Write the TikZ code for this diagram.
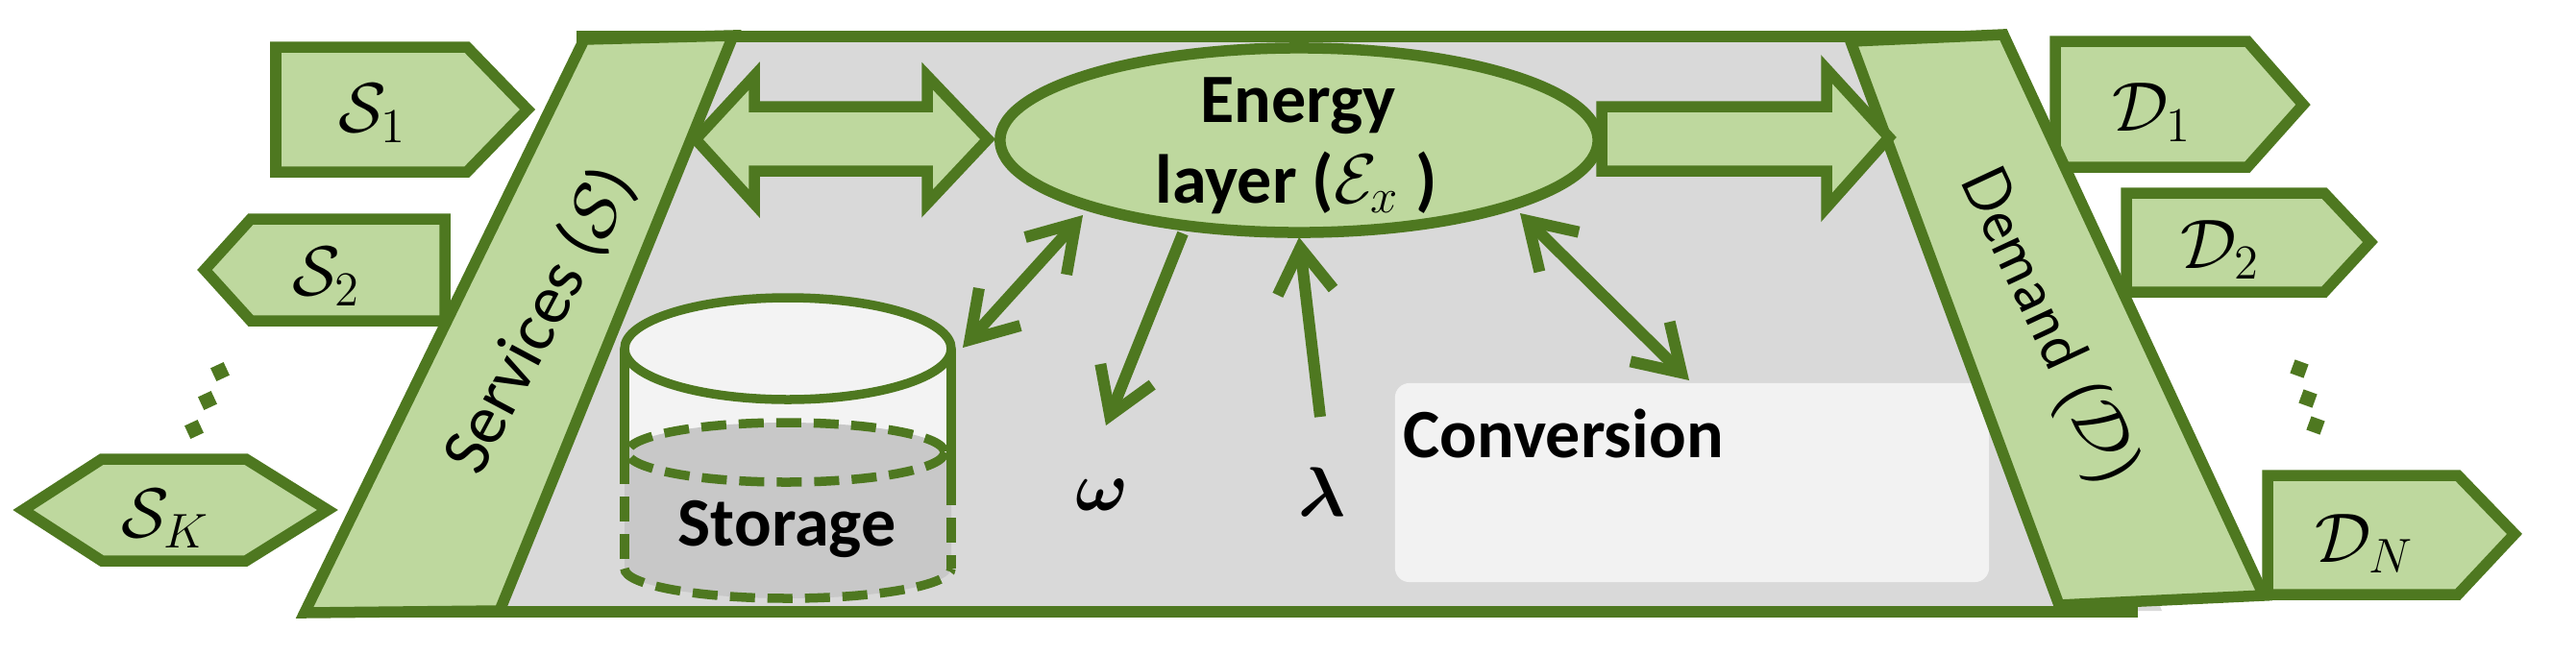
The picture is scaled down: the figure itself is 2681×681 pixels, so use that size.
\documentclass[tikz,border=0pt]{standalone}
\usepackage{amsmath}
\usepackage{fontspec}
\setmainfont{Carlito}
\usetikzlibrary{shapes.geometric,arrows.meta}
\definecolor{dkgreen}{RGB}{78,120,32}
\definecolor{ltgreen}{RGB}{190,216,158}
\definecolor{bggray}{RGB}{217,217,217}
\definecolor{convgray}{RGB}{242,242,242}
\definecolor{liqgray}{RGB}{200,200,200}
\definecolor{topwhite}{RGB}{243,243,243}
\tikzset{
  barb/.tip={Straight Barb[length=0.46cm,width=0.58cm]},
  box/.style={draw=dkgreen,fill=ltgreen,line width=0.115cm},
  frameline/.style={draw=dkgreen,line width=0.115cm},
  txt/.style={font=\fontsize{20.5}{24}\selectfont,inner sep=0pt},
  btxt/.style={font=\fontsize{20.5}{24}\selectfont\bfseries,inner sep=0pt},
  stxt/.style={font=\fontsize{19.5}{23}\selectfont\sffamily,inner sep=0pt},
  thinarrow/.style={draw=dkgreen,line width=0.12cm},
  cylline/.style={draw=dkgreen,line width=0.095cm},
  cyldash/.style={draw=dkgreen,line width=0.095cm,dash pattern=on 0.26cm off 0.13cm},
  dotsq/.style={fill=dkgreen,minimum size=0.15cm,inner sep=0pt,rotate=25},
}
\begin{document}
\begin{tikzpicture}[x=0.01cm,y=-0.01cm]
\useasboundingbox (0,0) rectangle (2681,681);
% gray platform (edges hidden under the bands)
\fill[bggray] (700,38) -- (2000,38) -- (2250,636) -- (420,636) -- cycle;
\draw[frameline] (600,38) -- (2090,38);
\draw[frameline] (317,637) -- (2225,637);
% conversion box
\node[fill=convgray,rounded corners=0.15cm,minimum width=6.18cm,minimum height=2.07cm,inner sep=0pt] (conv) at (1761,502.5) {};
\node[btxt,anchor=base west] (convtext) at (1460,476) {Conversion};
% service boxes
\draw[box] (287,49) -- (486,49) -- (549,114) -- (486,179) -- (287,179) -- cycle;
\node[txt] (s1) at (388,118) {$\mathcal{S}_1$};
\draw[box] (463,228) -- (261,228) -- (213,281) -- (261,334) -- (463,334) -- cycle;
\node[txt] (s2) at (340,288) {$\mathcal{S}_2$};
\draw[box] (106,478) -- (256,478) -- (341,531) -- (256,584) -- (106,584) -- (24,531) -- cycle;
\node[txt] (sk) at (172,540) {$\mathcal{S}_K$};
% demand boxes
\draw[box] (2139,43) -- (2339,43) -- (2397,109) -- (2339,174) -- (2139,174) -- cycle;
\node[txt] (d1) at (2240,117) {$\mathcal{D}_1$};
\draw[box] (2213,201) -- (2419,201) -- (2467,252) -- (2419,304) -- (2213,304) -- cycle;
\node[txt] (d2) at (2311,260) {$\mathcal{D}_2$};
\draw[box] (2360,495) -- (2558,495) -- (2617,556) -- (2558,619) -- (2360,619) -- cycle;
\node[txt] (dn) at (2461,566) {$\mathcal{D}_N$};
% bands
\draw[box] (608,41) -- (763,37) -- (520,636) -- (317,638) -- cycle;
\node[txt,rotate=62] (services) at (562,334) {Services (\(\mathcal{S}\))};
\draw[box] (1926,43) -- (2085,36) -- (2356,620) -- (2143,630) -- cycle;
\node[stxt,rotate=-65] (demand) at (2130,340) {Demand (\(\mathcal{D}\))};
% block arrows
\draw[box] (724,145) -- (785,79) -- (785,111) -- (965,111) -- (965,79) -- (1028,145)
  -- (965,212) -- (965,178) -- (785,178) -- (785,212) -- cycle;
\draw[box] (1667,111) -- (1901,111) -- (1901,72) -- (1966,143) -- (1901,216)
  -- (1901,178) -- (1667,178) -- cycle;
% storage cylinder
\fill[topwhite] (650,363) rectangle (990,471);
\fill[liqgray] (650,471) -- (650,592) arc[start angle=180,end angle=0,x radius=170,y radius=31] -- (990,471) -- cycle;
\fill[liqgray] (818,471) ellipse [x radius=165,y radius=31];
\draw[cyldash] (818,471) ellipse [x radius=165,y radius=31];
\draw[cyldash] (650,592) arc[start angle=180,end angle=0,x radius=170,y radius=31];
\draw[cylline] (650,363) -- (650,478);
\draw[cyldash] (650,478) -- (650,592);
\draw[cylline] (990,363) -- (990,500);
\draw[cyldash] (990,500) -- (990,592);
\draw[cylline,fill=topwhite] (820,363) ellipse [x radius=170,y radius=53];
\node[btxt,anchor=base] (storage) at (819,568) {Storage};
% energy layer
\node[ellipse,draw=dkgreen,fill=ltgreen,line width=0.115cm,minimum width=6.22cm,minimum height=1.92cm,inner sep=0pt] (energy) at (1352,146) {};
\node[btxt,anchor=base] (en1) at (1351,127) {Energy};
\node[btxt,anchor=base] (en2) at (1349,211) {layer (\(\mathcal{E}_x\) )};
% thin arrows
\coordinate (eS) at (1127,224);
\coordinate (sT) at (1002,362);
\draw[thinarrow,barb-barb] (eS) -- (sT);
\coordinate (eW) at (1231,243);
\coordinate (wT) at (1151,443);
\draw[thinarrow,-barb] (eW) -- (wT);
\coordinate (lB) at (1374,434);
\coordinate (eL) at (1352,247);
\draw[thinarrow,-barb] (lB) -- (eL);
\coordinate (eC) at (1582,222);
\coordinate (cT) at (1758,396);
\draw[thinarrow,barb-barb] (eC) -- (cT);
\node[txt] (omega) at (1147,515) {$\boldsymbol{\omega}$};
\node[txt] (lambda) at (1376,512) {$\boldsymbol{\lambda}$};
% dots
\foreach \x/\y [count=\i] in {229/387,216/417,202/447}
  \node[dotsq] (ldot\i) at (\x,\y) {};
\foreach \x/\y [count=\i] in {2393/384,2402/415,2410/443}
  \node[dotsq,rotate=-45] (rdot\i) at (\x,\y) {};
\end{tikzpicture}
\end{document}
